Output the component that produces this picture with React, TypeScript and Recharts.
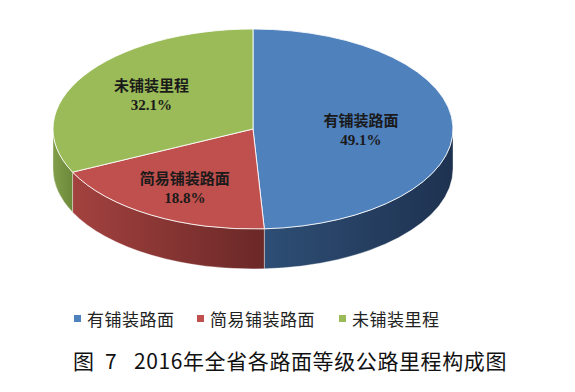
import React from 'react';
import { PieChart, Pie, Cell, Legend } from 'recharts';

const categories = ['有铺装路面', '简易铺装路面', '未铺装里程'];
const shares = [49.1, 18.8, 32.1];
const topColors = ['#4F81BD', '#C0504D', '#9BBB59'];
const sideLight = ['#2E4E75', '#A3423F', '#819E4A'];
const sideDark = ['#1E3250', '#6A2827', '#6B893A'];
const titleParts = ['图', '7', '2016年全省各路面等级公路里程构成图'];

const data = categories.map((name, i) => ({ name, value: shares[i] }));

const W = 575;
const H = 392;
const SQUASH = 0.5;
const DEPTH = 40;
const RAD = Math.PI / 180;

// label placement inside each slice (fraction of radius, vertical nudge)
const labelFrac = [0.54, 0.67, 0.6];
const labelNudge = [3, 1, -2];
const legendLeft = [74, 197, 339];
const titleLeft = [73, 105, 134];

const ep = (cx: number, cy: number, r: number, deg: number, dy = 0) => [
  cx + r * Math.cos(deg * RAD),
  cy - r * SQUASH * Math.sin(deg * RAD) + dy,
];

const idxOf = (p: any) => {
  const n = p.name ?? p.payload?.name;
  const i = categories.indexOf(n);
  return i < 0 ? (p.index ?? 0) : i;
};

const Slice3D = (props: any) => {
  const { cx, cy, outerRadius: r, startAngle, endAngle } = props;
  const i = idxOf(props);
  const ry = r * SQUASH;
  const s = Math.max(startAngle, endAngle);
  const e = Math.min(startAngle, endAngle);
  const [sx, sy] = ep(cx, cy, r, s);
  const [ex, ey] = ep(cx, cy, r, e);
  const large = s - e > 180 ? 1 : 0;
  const top = `M${cx},${cy} L${sx},${sy} A${r},${ry} 0 ${large} 1 ${ex},${ey} Z`;

  // visible front wall: angles between -180 and 0
  const hi = Math.min(s, 0);
  const lo = Math.max(e, -180);
  let side: React.ReactNode = null;
  const gid = `side-grad-${i}`;
  if (hi > lo) {
    const [ax, ay] = ep(cx, cy, r, hi);
    const [bx, by] = ep(cx, cy, r, lo);
    const d = `M${ax},${ay} A${r},${ry} 0 0 1 ${bx},${by} L${bx},${by + DEPTH} A${r},${ry} 0 0 0 ${ax},${ay + DEPTH} Z`;
    const x1 = Math.min(ax, bx);
    const x2 = Math.max(ax, bx);
    side = (
      <g>
        <defs>
          <linearGradient id={gid} gradientUnits="userSpaceOnUse" x1={x1} y1={0} x2={x2} y2={0}>
            <stop offset="0%" stopColor={sideLight[i]} />
            <stop offset="100%" stopColor={sideDark[i]} />
          </linearGradient>
        </defs>
        <path d={d} fill={`url(#${gid})`} stroke="#ffffff" strokeOpacity={0.45} strokeWidth={0.8} />
      </g>
    );
  }
  return (
    <g>
      {side}
      <path d={top} fill={topColors[i]} stroke="#ffffff" strokeOpacity={0.85} strokeWidth={1} />
    </g>
  );
};

const renderLabel = (props: any) => {
  const { cx, cy, midAngle, outerRadius } = props;
  const i = idxOf(props);
  const [x, y] = ep(cx, cy, outerRadius * labelFrac[i], midAngle, labelNudge[i]);
  return (
    <text
      x={x}
      y={y}
      textAnchor="middle"
      fill="#1a1a1a"
      fontFamily="'Liberation Serif', 'Noto Sans CJK SC', serif"
      fontWeight="bold"
      fontSize={15}
    >
      <tspan x={x} dy={-4}>{categories[i]}</tspan>
      <tspan x={x} dy={19}>{`${shares[i].toFixed(1)}%`}</tspan>
    </text>
  );
};

const renderLegend = () => (
  <div
    style={{
      position: 'relative',
      height: 24,
      fontFamily: "'Noto Sans CJK SC', sans-serif",
      fontSize: 17,
      letterSpacing: 0.5,
      color: '#222',
    }}
  >
    {categories.map((c, i) => (
      <div
        key={c}
        style={{ position: 'absolute', left: legendLeft[i], top: 0, height: 24, display: 'flex', alignItems: 'center' }}
      >
        <span style={{ width: 7, height: 7, background: topColors[i], display: 'inline-block', marginRight: 6 }} />
        <span>{c}</span>
      </div>
    ))}
  </div>
);

export default function App() {
  return (
    <div style={{ position: 'absolute', left: 0, top: 0, width: W, height: H, background: '#fff' }}>
      <PieChart width={W} height={H} margin={{ top: 0, right: 0, bottom: 0, left: 0 }}>
        <Pie
          data={data}
          dataKey="value"
          nameKey="name"
          cx={253}
          cy={129}
          outerRadius={200}
          startAngle={90}
          endAngle={-270}
          shape={Slice3D}
          label={renderLabel}
          labelLine={false}
          isAnimationActive={false}
        >
          {data.map((d, i) => (
            <Cell key={d.name} fill={topColors[i]} />
          ))}
        </Pie>
        <Legend content={renderLegend} wrapperStyle={{ position: 'absolute', left: 0, top: 306, width: W }} />
      </PieChart>
      {titleParts.map((t, i) => (
        <div
          key={t}
          style={{
            position: 'absolute',
            left: titleLeft[i],
            top: 346,
            fontFamily: "'Noto Sans CJK SC', sans-serif",
            fontSize: 21,
            lineHeight: '28px',
            letterSpacing: 0.6,
            color: '#111',
            whiteSpace: 'pre',
          }}
        >
          {t}
        </div>
      ))}
    </div>
  );
}
